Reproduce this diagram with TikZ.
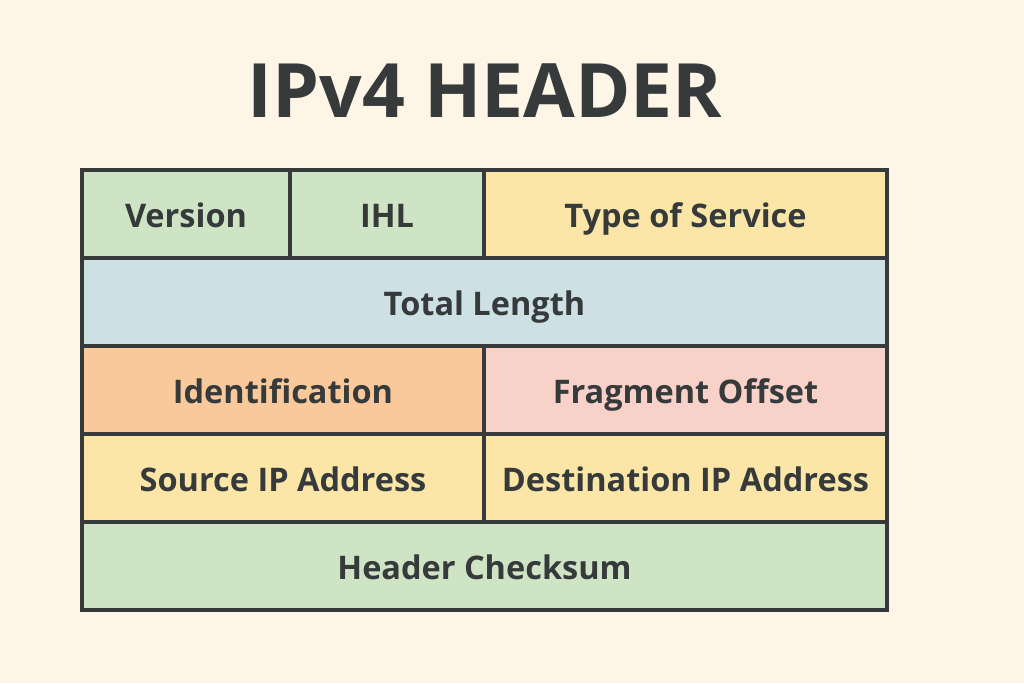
\documentclass[tikz,border=0pt]{standalone}
\usepackage{fontspec}
\setmainfont{Open Sans}
\definecolor{bgc}{HTML}{FDF5E6}
\definecolor{grn}{HTML}{CFE3C5}
\definecolor{ylw}{HTML}{FBE5A7}
\definecolor{blu}{HTML}{CDE0E3}
\definecolor{org}{HTML}{F9C99B}
\definecolor{pnk}{HTML}{F8D1C9}
\definecolor{ink}{HTML}{363A3B}
\tikzset{
  cell/.style={anchor=north west, inner sep=0pt, outer sep=0pt, minimum height=88pt},
  edge/.style={draw=ink, line width=3.4pt, line join=miter},
  lbl/.style={text=ink, font=\fontsize{32.5}{36}\selectfont\bfseries, inner sep=0pt, anchor=base},
}
\begin{document}
\begin{tikzpicture}[x=1pt,y=-1pt]
\fill[bgc] (0,0) rectangle (1024,683);
\useasboundingbox (0,0) rectangle (1024,683);
\node[text=ink, font=\fontsize{75}{90}\selectfont\bfseries, inner sep=0pt, anchor=base] (title) at (485,117) {IPv4 HEADER};
% row 1
\node[cell, fill=grn, minimum width=208pt] (ver) at (82,170) {};
\node[cell, fill=grn, minimum width=194pt] (ihl) at (290,170) {};
\node[cell, fill=ylw, minimum width=403pt] (tos) at (484,170) {};
% row 2
\node[cell, fill=blu, minimum width=805pt] (tl) at (82,258) {};
% row 3
\node[cell, fill=org, minimum width=402pt] (id) at (82,346) {};
\node[cell, fill=pnk, minimum width=403pt] (fo) at (484,346) {};
% row 4
\node[cell, fill=ylw, minimum width=402pt] (src) at (82,434) {};
\node[cell, fill=ylw, minimum width=403pt] (dst) at (484,434) {};
% row 5
\node[cell, fill=grn, minimum width=805pt] (hc) at (82,522) {};
% borders
\foreach \c in {ver,ihl,tos,tl,id,fo,src,dst,hc}
  \draw[edge] (\c.north west) rectangle (\c.south east);
% labels
\node[lbl] (lver) at ([yshift=-13pt]ver.center) {Version};
\node[lbl] (lihl) at ([yshift=-13pt]ihl.center) {IHL};
\node[lbl] (ltos) at ([yshift=-13pt]tos.center) {Type of Service};
\node[lbl] (ltl) at ([yshift=-13pt]tl.center) {Total Length};
\node[lbl] (lid) at ([yshift=-13pt]id.center) {Identification};
\node[lbl] (lfo) at ([yshift=-13pt]fo.center) {Fragment Offset};
\node[lbl] (lsrc) at ([yshift=-13pt]src.center) {Source IP Address};
\node[lbl] (ldst) at ([yshift=-13pt]dst.center) {Destination IP Address};
\node[lbl] (lhc) at ([yshift=-13pt]hc.center) {Header Checksum};
\end{tikzpicture}
\end{document}
